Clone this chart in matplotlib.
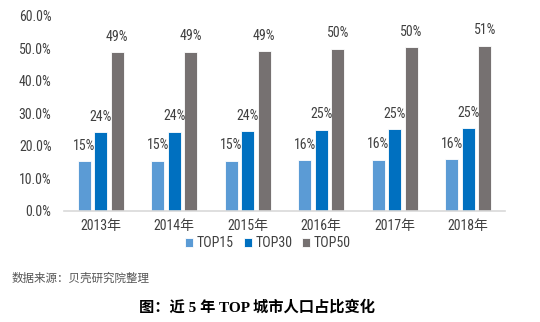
import numpy as np
import matplotlib.pyplot as plt
from matplotlib import font_manager

names = {f.name for f in font_manager.fontManager.ttflist}
latin = next((n for n in ['Liberation Sans Narrow', 'Arial Narrow', 'Roboto Condensed',
                          'Carlito', 'Liberation Sans'] if n in names), 'DejaVu Sans')
plt.rcParams['font.family'] = [latin, 'Noto Sans CJK SC']
fsz = 10 if latin != 'Liberation Sans' else 9

years = ['2013年', '2014年', '2015年', '2016年', '2017年', '2018年']
series = ['TOP15', 'TOP30', 'TOP50']
top15 = [15.2, 15.3, 15.4, 15.6, 15.7, 15.9]
top30 = [24.2, 24.3, 24.5, 24.9, 25.1, 25.4]
top50 = [48.7, 48.9, 49.1, 49.8, 50.4, 50.8]
colors = ['#5B9BD5', '#0070C0', '#767171']

txt = '#404040'

fig = plt.figure(figsize=(5.4, 3.22), dpi=100)
ax = fig.add_axes([64/540, 1-210.5/322, 441/540, (210.5-15.7)/322])

x = np.arange(len(years))
w = 0.18
step = 0.225
for i, (vals, c, name) in enumerate(zip([top15, top30, top50], colors, series)):
    pos = x + (i-1)*step
    bars = ax.bar(pos, vals, width=w, color=c, edgecolor='white', linewidth=0.6, label=name)
    for b, v in zip(bars, vals):
        ax.annotate('%.0f%%' % v, (b.get_x()+b.get_width()/2, v), xytext=(0, 6),
                    textcoords='offset points', ha='center', va='bottom',
                    fontsize=fsz, color=txt)

ax.set_xlim(-0.5, 5.5)
ax.set_ylim(0, 60)
ax.set_yticks(np.arange(0, 61, 10))
ax.set_yticklabels(['%.1f%%' % t for t in np.arange(0, 61, 10)])
ax.set_xticks(x)
ax.set_xticklabels(years)
ax.tick_params(axis='both', length=0, labelsize=fsz, colors=txt)
ax.tick_params(axis='y', pad=9)
ax.tick_params(axis='x', pad=6)
for s in ['top', 'right', 'left']:
    ax.spines[s].set_visible(False)
ax.spines['bottom'].set_color('#D9D9D9')
ax.spines['bottom'].set_linewidth(1.2)

leg = fig.legend(loc='center', bbox_to_anchor=(268/540, 1-243/322), ncol=3, frameon=False,
                 fontsize=fsz, handlelength=0.6, handleheight=0.6, handletextpad=0.25,
                 columnspacing=0.7, labelcolor=txt)

fig.text(12/540, 1-278/322, '数据来源：贝壳研究院整理', fontsize=8.3, color='#555555',
         va='center', ha='left', family=['Noto Sans CJK SC'])
fig.text(257/540, 1-307/322, '图：近 5 年 TOP 城市人口占比变化', fontsize=11, fontweight='bold',
         color='black', va='center', ha='center', family=['Liberation Serif', 'Noto Sans CJK SC'])

fig.savefig('out.png', dpi=100)
